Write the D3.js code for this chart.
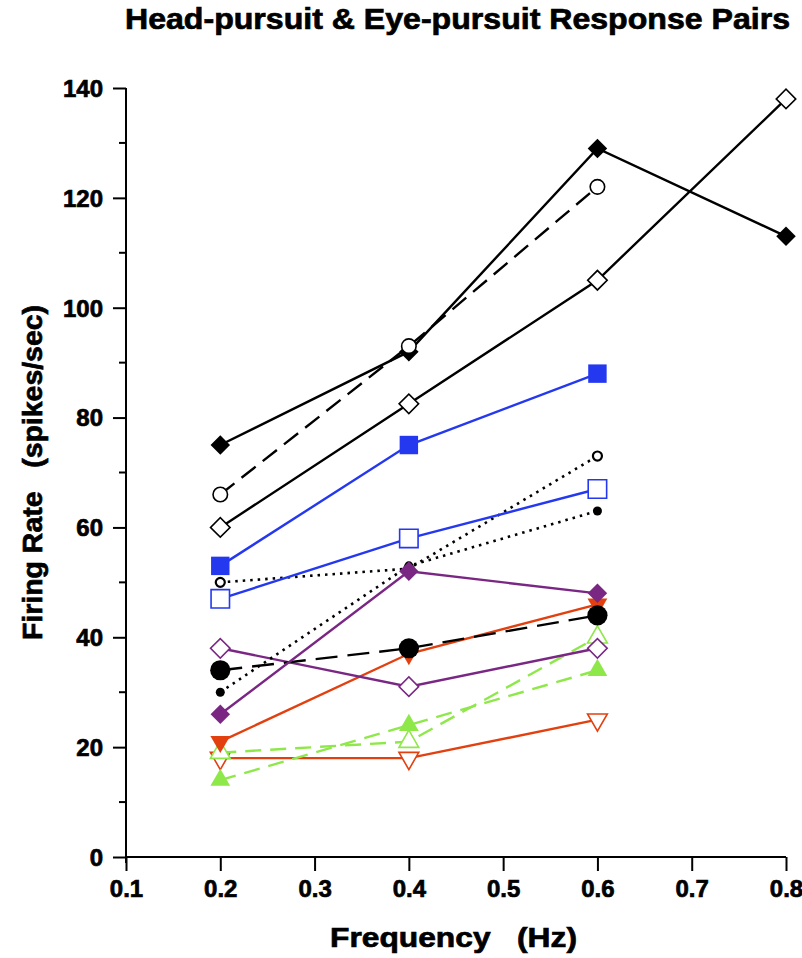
<!DOCTYPE html>
<html>
<head>
<meta charset="utf-8">
<script src="https://cdn.jsdelivr.net/npm/d3@7"></script>
<style>
  body { margin: 0; background: #fff; }
  text { font-family: "Liberation Sans", Arial, sans-serif; font-weight: bold; fill: #000;
         stroke: #000; stroke-width: 0.7px; }
</style>
</head>
<body>
<div class="chart-container"></div>
<script>
// frequencies (Hz) and axis ticks
var freqs = [0.2, 0.4, 0.6, 0.8];
var xTicks = [0.1, 0.2, 0.3, 0.4, 0.5, 0.6, 0.7, 0.8];
var yTicks = [0, 20, 40, 60, 80, 100, 120, 140];
var yMinorTicks = [10, 30, 50, 70, 90, 110, 130];

// firing rates (spikes/sec), one value per frequency
var blackDiamondFilled = [75, 92, 129, 113];
var blackCircleOpen = [66, 93, 122];
var blackDiamondOpen = [60, 82.5, 105, 138];
var blueSquareFilled = [53, 75, 88];
var blueSquareOpen = [47, 58, 67];
var smallCircleOpen = [50, 52.5, 73];
var smallDotFilled = [30, 53, 63];
var purpleDiamondFilled = [26, 52, 48];
var purpleDiamondOpen = [38, 31, 38];
var bigDotFilled = [34, 38, 44];
var redTriFilled = [21, 37, 46];
var redTriOpen = [18, 18, 25];
var greenTriFilled = [14, 24, 34];
var greenTriOpen = [19, 21, 40];

var blue = '#2438f0', purple = '#7a2784', red = '#e2400f', green = '#8fe84a';

// draw order matters where markers overlap
var series = [
  {values: redTriOpen, color: red, shape: 'triDown', open: true, dash: null},
  {values: greenTriOpen, color: green, shape: 'triUp', open: true, dash: '16,9'},
  {values: greenTriFilled, color: green, shape: 'triUp', open: false, dash: '16,9'},
  {values: redTriFilled, color: red, shape: 'triDown', open: false, dash: null},
  {values: purpleDiamondOpen, color: purple, shape: 'diamond', open: true, dash: null},
  {values: bigDotFilled, color: '#000', shape: 'bigCircle', open: false, dash: '22,10'},
  {values: smallDotFilled, color: '#000', shape: 'smallCircle', open: false, dash: 'dot'},
  {values: smallCircleOpen, color: '#000', shape: 'smallCircle', open: true, dash: 'dot'},
  {values: purpleDiamondFilled, color: purple, shape: 'diamond', open: false, dash: null},
  {values: blueSquareOpen, color: blue, shape: 'square', open: true, dash: null},
  {values: blueSquareFilled, color: blue, shape: 'square', open: false, dash: null},
  {values: blackDiamondOpen, color: '#000', shape: 'diamond', open: true, dash: null},
  {values: blackDiamondFilled, color: '#000', shape: 'diamond', open: false, dash: null},
  {values: blackCircleOpen, color: '#000', shape: 'circle', open: true, dash: '18,9'}
];

var width = 802, height = 958;

var x = d3.scaleLinear().domain([0.1, 0.8]).range([126, 786]);
var y = d3.scaleLinear().domain([0, 140]).range([857, 88]);

var svg = d3.select('.chart-container').append('svg')
    .attr('width', width)
    .attr('height', height);

// title
svg.append('text')
    .attr('x', 125)
    .attr('y', 29)
    .attr('textLength', 665)
    .attr('lengthAdjust', 'spacingAndGlyphs')
    .style('font-size', '29px')
    .text('Head-pursuit & Eye-pursuit Response Pairs');

// axes
var xAxis = d3.axisBottom(x).tickValues(xTicks).tickSize(14).tickPadding(9)
    .tickFormat(d3.format('.1f'));
var yAxis = d3.axisLeft(y).tickValues(yTicks).tickSize(13).tickPadding(10);

svg.append('g')
    .attr('class', 'x axis')
    .attr('transform', 'translate(0,' + y(0) + ')')
    .call(xAxis);

svg.append('g')
    .attr('class', 'y axis')
    .attr('transform', 'translate(' + x(0.1) + ',0)')
    .call(yAxis);

svg.append('g')
    .attr('transform', 'translate(' + x(0.1) + ',0)')
    .selectAll('line')
    .data(yMinorTicks)
  .enter().append('line')
    .attr('x1', -7).attr('x2', 0)
    .attr('y1', function(d) { return y(d); })
    .attr('y2', function(d) { return y(d); })
    .attr('stroke', '#000')
    .attr('stroke-width', 2);

svg.selectAll('.axis .domain').remove();
svg.selectAll('.axis line').attr('stroke', '#000').attr('stroke-width', 2);
svg.selectAll('.axis text').attr('fill', '#000').attr('stroke', '#000').attr('stroke-width', 0.7);
svg.selectAll('.x.axis text').style('font-size', '24px');
svg.selectAll('.y.axis text').style('font-size', '24px').attr('dy', '0.35em');

// axis lines
svg.append('line')
    .attr('x1', x(0.1)).attr('x2', x(0.8))
    .attr('y1', y(0)).attr('y2', y(0))
    .attr('stroke', '#000').attr('stroke-width', 2);
svg.append('line')
    .attr('x1', x(0.1)).attr('x2', x(0.1))
    .attr('y1', y(140)).attr('y2', y(0) + 6)
    .attr('stroke', '#000').attr('stroke-width', 2);

// axis titles
svg.append('text')
    .attr('x', 330)
    .attr('y', 947)
    .attr('textLength', 247)
    .attr('lengthAdjust', 'spacingAndGlyphs')
    .style('font-size', '28px')
    .attr('xml:space', 'preserve')
    .text('Frequency   (Hz)');

svg.append('text')
    .attr('transform', 'translate(42,640) rotate(-90)')
    .attr('textLength', 335)
    .attr('lengthAdjust', 'spacingAndGlyphs')
    .style('font-size', '28px')
    .attr('xml:space', 'preserve')
    .text('Firing Rate   (spikes/sec)');

var symbols = {
  diamond: {type: d3.symbolSquare, size: 190, rotate: 45},
  square: {type: d3.symbolSquare, size: 340, rotate: 0},
  circle: {type: d3.symbolCircle, size: 165, rotate: 0},
  bigCircle: {type: d3.symbolCircle, size: 320, rotate: 0},
  smallCircle: {type: d3.symbolCircle, size: 64, rotate: 0},
  triUp: {type: d3.symbolTriangle, size: 170, rotate: 0},
  triDown: {type: d3.symbolTriangle, size: 170, rotate: 180}
};

var line = d3.line()
    .x(function(d) { return x(d.f); })
    .y(function(d) { return y(d.v); });

series.forEach(function(s) {
  var pts = s.values.map(function(v, i) { return {f: freqs[i], v: v}; });
  var g = svg.append('g');

  var path = g.append('path')
      .datum(pts)
      .attr('d', line)
      .attr('fill', 'none')
      .attr('stroke', s.color)
      .attr('stroke-width', 2.4);
  if (s.dash === 'dot') {
    path.attr('stroke-dasharray', '2.5,5').attr('stroke-width', 2.6);
  } else if (s.dash) {
    path.attr('stroke-dasharray', s.dash);
  }

  var sym = symbols[s.shape];
  g.selectAll('.mark')
      .data(pts)
    .enter().append('path')
      .attr('class', 'mark')
      .attr('d', d3.symbol().type(sym.type).size(sym.size))
      .attr('transform', function(d) {
        return 'translate(' + x(d.f) + ',' + y(d.v) + ') rotate(' + sym.rotate + ')';
      })
      .attr('fill', s.open ? '#fff' : s.color)
      .attr('stroke', s.color)
      .attr('stroke-width', s.open ? (s.shape === 'smallCircle' ? 2.2 : 1.6) : 0);
});
</script>
</body>
</html>
